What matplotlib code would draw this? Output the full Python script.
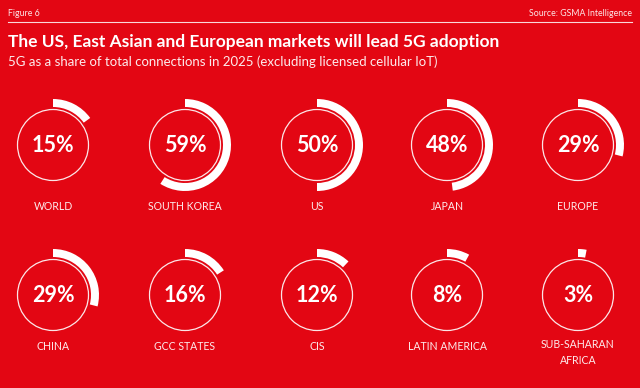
import matplotlib
matplotlib.use("Agg")
import matplotlib.pyplot as plt
from matplotlib.patches import Wedge, Circle

regions = ["WORLD", "SOUTH KOREA", "US", "JAPAN", "EUROPE",
           "CHINA", "GCC STATES", "CIS", "LATIN AMERICA", "SUB-SAHARAN\nAFRICA"]
shares = [15, 59, 50, 48, 29, 29, 16, 12, 8, 3]

BG = "#E30613"
W, H = 640, 388
fig = plt.figure(figsize=(W / 100, H / 100), dpi=100, facecolor=BG)
ax = fig.add_axes([0, 0, 1, 1])
ax.set_xlim(0, W)
ax.set_ylim(H, 0)
ax.set_aspect("equal")
ax.axis("off")
ax.set_facecolor(BG)

FONT = ["Lato", "DejaVu Sans"]

ax.text(8, 13, "Figure 6", color="white", fontsize=6.3, va="center", ha="left", family=FONT, alpha=0.9)
ax.text(632, 13, "Source: GSMA Intelligence", color="white", fontsize=6.3, va="center", ha="right", family=FONT, alpha=0.9)
ax.plot([8, 632], [22, 22], color="white", lw=0.8, alpha=0.85)
ax.text(8, 42, "The US, East Asian and European markets will lead 5G adoption", color="white",
        fontsize=12.5, fontweight="bold", va="center", ha="left", family=FONT)
ax.text(8, 62, "5G as a share of total connections in 2025 (excluding licensed cellular IoT)", color="white",
        fontsize=9.55, va="center", ha="left", family=FONT, alpha=0.92)

col_x = [53, 185, 317, 447, 578]
row_y = [145, 295]
label_y = [207, 346]
for i, (name, v) in enumerate(zip(regions, shares)):
    cx = col_x[i % 5]
    cy = row_y[i // 5]
    ax.add_patch(Wedge((cx, cy), 46, -90, -90 + 360 * v / 100, width=8,
                       facecolor="white", edgecolor="none"))
    ax.add_patch(Circle((cx, cy), 35.5, facecolor="none", edgecolor="white", lw=0.9, alpha=0.9))
    ax.text(cx, cy + 1, f"{v}%", color="white", fontsize=15.5, fontweight="bold",
            ha="center", va="center", family=FONT)
    ly = label_y[i // 5]
    va = "center"
    if "\n" in name:
        ly = ly - 6.5
        va = "top"
    ax.text(cx, ly, name, color="white", fontsize=7.6,
            ha="center", va=va, family=FONT, alpha=0.92, linespacing=1.45)

fig.savefig("out.png", dpi=100, facecolor=BG)
